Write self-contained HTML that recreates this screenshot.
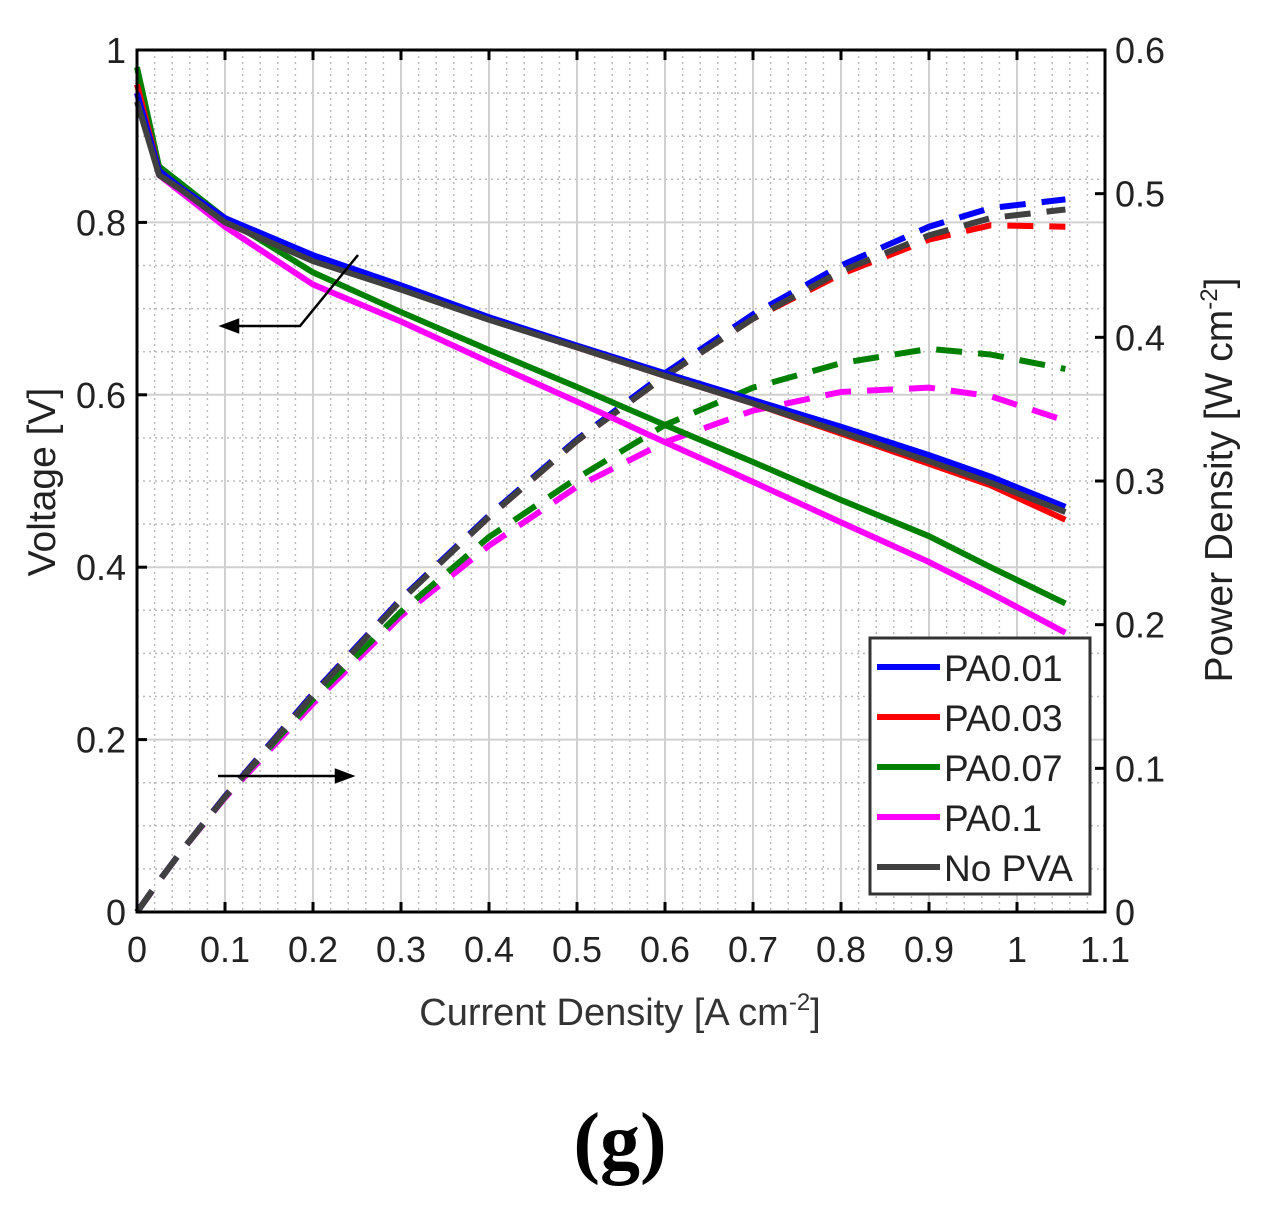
<!DOCTYPE html>
<html><head><meta charset="utf-8"><style>
body{margin:0;background:#fff;}
svg{display:block;font-family:"Liberation Sans",sans-serif;}
</style></head><body>
<svg id="chart" width="1274" height="1211" viewBox="0 0 1274 1211">
<g id="grid"></g>
<g id="series"></g>
<g id="axes"></g>
<g stroke="#000" stroke-width="2.5" fill="none">
<polyline points="358,255 300,326 226,326"/>
<polygon points="222,326 238,320 238,332" fill="#000"/>
<line x1="218" y1="776" x2="346" y2="776"/>
<polygon points="352,776 336,770 336,782" fill="#000"/>
</g>
<g id="legend"></g>
<text x="620" y="1025" font-size="38" fill="#333" text-anchor="middle">Current Density [A cm<tspan font-size="24" dy="-15">-2</tspan><tspan dy="15">]</tspan></text>
<text transform="translate(55,482) rotate(-90)" font-size="39" fill="#222" text-anchor="middle">Voltage [V]</text>
<text transform="translate(1232,480) rotate(-90)" font-size="39" fill="#222" text-anchor="middle">Power Density [W cm<tspan font-size="24" dy="-15">-2</tspan><tspan dy="15">]</tspan></text>
<text x="620" y="1168" font-size="80" font-weight="bold" font-family="Liberation Serif,serif" text-anchor="middle">(g)</text>
</svg>
<script>
const current=[0,0.025,0.05,0.1,0.2,0.3,0.4,0.5,0.6,0.7,0.8,0.9,0.97,1.055];
const vPA001=[0.95,0.86,0.84,0.805,0.762,0.727,0.69,0.657,0.625,0.594,0.563,0.53,0.505,0.47];
const vPA003=[0.96,0.86,0.84,0.805,0.76,0.725,0.688,0.655,0.622,0.59,0.555,0.52,0.495,0.455];
const vPA007=[0.98,0.865,0.845,0.805,0.742,0.696,0.652,0.609,0.565,0.522,0.478,0.436,0.40,0.358];
const vPA01=[0.95,0.855,0.835,0.795,0.728,0.685,0.638,0.592,0.545,0.499,0.452,0.406,0.37,0.324];
const vNoPVA=[0.94,0.855,0.838,0.8,0.755,0.722,0.687,0.655,0.622,0.59,0.557,0.523,0.498,0.464];
const pPA001=[0,0.0215,0.042,0.0805,0.152,0.218,0.276,0.329,0.375,0.416,0.450,0.477,0.490,0.496];
const pPA003=[0,0.0215,0.042,0.0805,0.152,0.218,0.275,0.328,0.373,0.413,0.444,0.468,0.478,0.477];
const pPA007=[0,0.0216,0.042,0.0805,0.148,0.209,0.261,0.302,0.339,0.365,0.382,0.392,0.388,0.378];
const pPA01=[0,0.0214,0.042,0.0795,0.145,0.206,0.255,0.296,0.327,0.349,0.362,0.365,0.359,0.342];
const pNoPVA=[0,0.0214,0.042,0.080,0.151,0.217,0.275,0.328,0.373,0.413,0.446,0.471,0.483,0.489];
const seriesNames=["PA0.01","PA0.03","PA0.07","PA0.1","No PVA"];
const xTicks=["0","0.1","0.2","0.3","0.4","0.5","0.6","0.7","0.8","0.9","1","1.1"];
const yTicks=["0","0.2","0.4","0.6","0.8","1"];
const y2Ticks=["0","0.1","0.2","0.3","0.4","0.5","0.6"];

const L=137,R=1105,T=50,B=912,NS="http://www.w3.org/2000/svg";
const xs=v=>L+(R-L)*v/1.1, ys=v=>B-(B-T)*v, y2s=v=>B-(B-T)*v/0.6;
function mk(tag,attrs,parent){const e=document.createElementNS(NS,tag);for(const k in attrs)e.setAttribute(k,attrs[k]);parent.appendChild(e);return e;}
const grid=document.getElementById('grid'),axes=document.getElementById('axes'),ser=document.getElementById('series'),leg=document.getElementById('legend');
for(let i=1;i<55;i++){if(i%5===0)continue;const x=xs(i*0.02);const e=mk('line',{x1:x,x2:x,y1:T,y2:B,stroke:'#bbb','stroke-width':1.5,'stroke-dasharray':'2,4'},grid);}
for(let i=1;i<20;i++){if(i%4===0)continue;const y=ys(i*0.05);const e=mk('line',{x1:L,x2:R,y1:y,y2:y,stroke:'#bbb','stroke-width':1.5,'stroke-dasharray':'2,4'},grid);}
xTicks.forEach((t,i)=>{const x=xs(i*0.1);
 if(i>0&&i<11){const g=mk('line',{x1:x,x2:x,y1:T,y2:B,stroke:'#d0d0d0','stroke-width':2},grid);}
 mk('line',{x1:x,x2:x,y1:B,y2:B-10,stroke:'#000','stroke-width':3},axes);mk('line',{x1:x,x2:x,y1:T,y2:T+10,stroke:'#000','stroke-width':3},axes);
 const tx=mk('text',{x:x,y:B+50,'font-size':36,'text-anchor':'middle',fill:'#222'},axes);tx.textContent=t;});
yTicks.forEach((t,i)=>{const y=ys(i*0.2);
 if(i>0&&i<5){const g=mk('line',{x1:L,x2:R,y1:y,y2:y,stroke:'#d0d0d0','stroke-width':2},grid);}
 mk('line',{x1:L,x2:L+10,y1:y,y2:y,stroke:'#000','stroke-width':3},axes);
 const tx=mk('text',{x:126,y:y+13,'font-size':36,'text-anchor':'end',fill:'#222'},axes);tx.textContent=t;});
y2Ticks.forEach((t,i)=>{const y=y2s(i*0.1);
 mk('line',{x1:R,x2:R-10,y1:y,y2:y,stroke:'#000','stroke-width':3},axes);
 const tx=mk('text',{x:1115,y:y+13,'font-size':36,'text-anchor':'start',fill:'#222'},axes);tx.textContent=t;});
const box=mk('rect',{x:L,y:T,width:R-L,height:B-T,fill:'none',stroke:'#000','stroke-width':3},axes);

const colors=['#0000ff','#ff0000','#008000','#ff00ff','#404040'];
const vs=[vPA001,vPA003,vPA007,vPA01,vNoPVA],ps=[pPA001,pPA003,pPA007,pPA01,pNoPVA];
[3,2,1,0,4].forEach(k=>{
 const pp=mk('polyline',{points:current.map((c,i)=>xs(c)+','+y2s(ps[k][i])).join(' '),fill:'none',stroke:colors[k],'stroke-width':6,'stroke-dasharray':'26,16'},ser);
 });
[3,2,1,0,4].forEach(k=>{
 const pl=mk('polyline',{points:current.map((c,i)=>xs(c)+','+ys(vs[k][i])).join(' '),fill:'none',stroke:colors[k],'stroke-width':6,'stroke-linejoin':'round'},ser);
 });
const lb=mk('rect',{x:870,y:638,width:220,height:256,fill:'#fff',stroke:'#333','stroke-width':3},leg);

seriesNames.forEach((n,i)=>{const y=667+i*50;const g=mk('g',{},leg);
 
 mk('line',{x1:877,x2:940,y1:y,y2:y,stroke:colors[i],'stroke-width':6},g);
 const t=mk('text',{x:944,y:y+14,'font-size':37,fill:'#222'},g);t.textContent=n;});
</script>
</body></html>
